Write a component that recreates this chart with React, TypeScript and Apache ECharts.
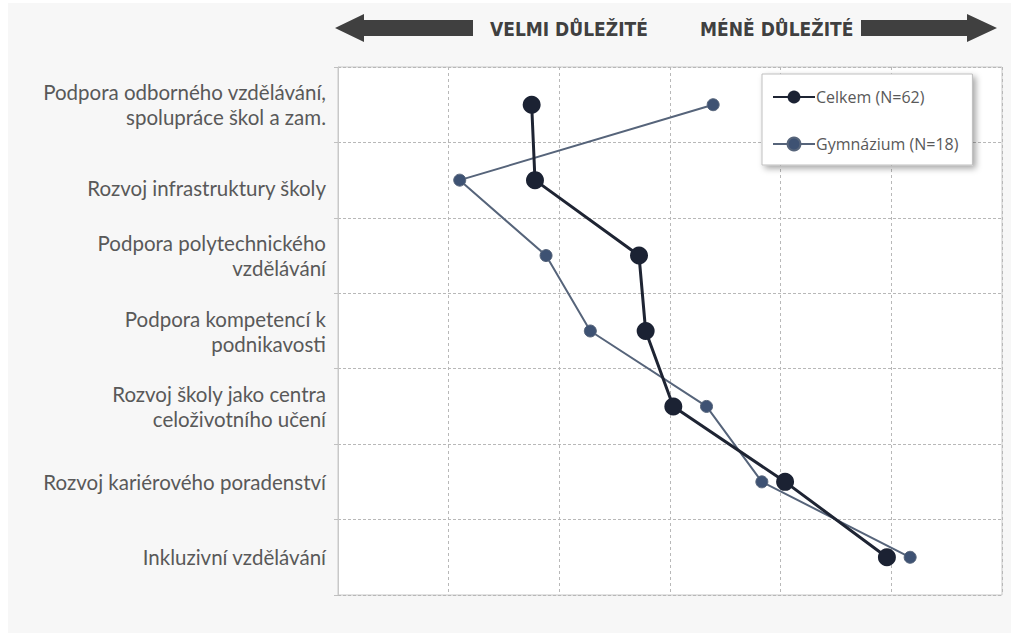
import React, { useEffect, useRef } from "react";
import * as echarts from "echarts";

const categories = [
  "Podpora odborného vzdělávání,\nspolupráce škol a zam.",
  "Rozvoj infrastruktury školy",
  "Podpora polytechnického\nvzdělávání",
  "Podpora kompetencí k\npodnikavosti",
  "Rozvoj školy jako centra\nceloživotního učení",
  "Rozvoj kariérového poradenství",
  "Inkluzivní vzdělávání",
];
const celkem = [2.75, 2.78, 3.72, 3.78, 4.03, 5.04, 5.96];
const gymnazium = [4.39, 2.1, 2.88, 3.28, 4.33, 4.83, 6.17];
const seriesNames = ["Celkem (N=62)", "Gymnázium (N=18)"];
const headerLeft = "VELMI DŮLEŽITÉ";
const headerRight = "MÉNĚ DŮLEŽITÉ";

export default function App() {
  const ref = useRef<HTMLDivElement>(null);
  useEffect(() => {
    if (!ref.current) return;
    const chart = echarts.init(ref.current, null, { renderer: "svg" });
    const labelColor = "#595959";
    const arrowColor = "#404040";
    const headerFont =
      "bold 19px 'Liberation Sans Narrow', 'DejaVu Sans Condensed', sans-serif";
    chart.setOption({
      animation: false,
      backgroundColor: "#ffffff",
      graphic: [
        {
          type: "rect",
          z: -10,
          silent: true,
          shape: { x: 8, y: 3, width: 1003, height: 630 },
          style: { fill: "#f7f7f7" },
        },
        {
          type: "polygon",
          shape: {
            points: [
              [335, 28], [364, 14], [364, 20], [473, 20], [473, 36], [364, 36], [364, 42],
            ],
          },
          style: { fill: arrowColor },
        },
        {
          type: "polygon",
          shape: {
            points: [
              [861, 20], [967, 20], [967, 14], [997, 28], [967, 42], [967, 36], [861, 36],
            ],
          },
          style: { fill: arrowColor },
        },
        {
          type: "text",
          x: 490,
          y: 29,
          style: { text: headerLeft, fill: arrowColor, font: headerFont, verticalAlign: "middle" },
        },
        {
          type: "text",
          x: 700,
          y: 29,
          style: { text: headerRight, fill: arrowColor, font: headerFont, verticalAlign: "middle" },
        },
      ],
      grid: {
        left: 338,
        right: 9,
        top: 67,
        bottom: 41,
        show: true,
        backgroundColor: "#ffffff",
        borderColor: "#c8c8c8",
        borderWidth: 1,
        containLabel: false,
      },
      legend: {
        orient: "vertical",
        left: 762,
        top: 74,
        data: seriesNames,
        backgroundColor: "#ffffff",
        borderColor: "#bfbfbf",
        borderWidth: 1,
        shadowColor: "rgba(0,0,0,0.35)",
        shadowBlur: 6,
        shadowOffsetX: 3,
        shadowOffsetY: 3,
        padding: [15, 14, 13, 10],
        itemGap: 31,
        itemWidth: 42,
        itemHeight: 16,
        textStyle: {
          color: labelColor,
          fontSize: 16,
          fontFamily: "'Open Sans', sans-serif",
          padding: [0, 0, 0, -4],
        },
      },
      xAxis: {
        type: "value",
        min: 1,
        max: 7,
        interval: 1,
        axisLabel: { show: false },
        axisLine: { show: false },
        axisTick: { show: false },
        splitLine: {
          show: true,
          lineStyle: { color: "#b8b8b8", type: [3, 3], width: 1 },
        },
      },
      yAxis: {
        type: "category",
        inverse: true,
        data: categories,
        boundaryGap: true,
        axisLine: { show: true, lineStyle: { color: "#c8c8c8" } },
        axisTick: { show: true, length: 4, lineStyle: { color: "#c0c0c0" } },
        axisLabel: {
          color: labelColor,
          fontSize: 20.5,
          fontFamily: "Lato, sans-serif",
          lineHeight: 25,
          align: "right",
          margin: 12,
          formatter: (v: string, i: number) => (i === 1 ? "{s|" + v + "}" : v),
          rich: {
            s: {
              color: labelColor,
              fontSize: 20.5,
              fontFamily: "Lato, sans-serif",
              padding: [15, 0, 0, 0],
            },
          },
        },
        splitLine: {
          show: true,
          lineStyle: { color: "#b8b8b8", type: [3, 2], width: 1 },
        },
      },
      series: [
        {
          name: seriesNames[1],
          type: "line",
          data: gymnazium,
          symbol: "circle",
          symbolSize: 12,
          lineStyle: { color: "#56647a", width: 2 },
          itemStyle: { color: "#3e5273", borderColor: "#56647a", borderWidth: 1 },
          z: 2,
        },
        {
          name: seriesNames[0],
          type: "line",
          data: celkem,
          symbol: "circle",
          symbolSize: 18,
          lineStyle: { color: "#1e2433", width: 3 },
          itemStyle: { color: "#1b2233" },
          z: 3,
        },
      ],
    });
    return () => chart.dispose();
  }, []);
  return (
    <div
      ref={ref}
      style={{ position: "fixed", left: 0, top: 0, width: 1011, height: 636 }}
    />
  );
}
